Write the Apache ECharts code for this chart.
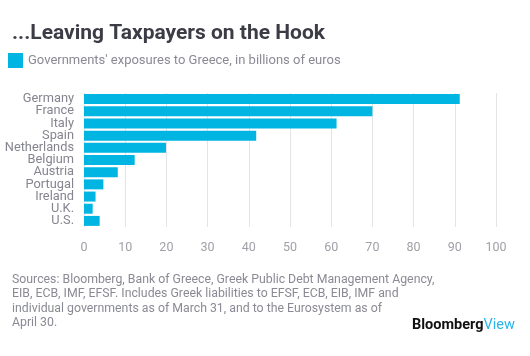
<!DOCTYPE html>
<html><head><meta charset="utf-8">
<script src="https://cdn.jsdelivr.net/npm/echarts@6/dist/echarts.min.js"></script>
<style>html,body{margin:0;padding:0;background:#fff}#c{width:530px;height:356px}</style>
</head><body><div id="c"></div>
<script>
const countries = ["Germany","France","Italy","Spain","Netherlands","Belgium","Austria","Portugal","Ireland","U.K.","U.S."];
const exposures = [91.2, 70.0, 61.3, 41.8, 19.9, 12.3, 8.2, 4.7, 2.8, 2.1, 3.8];
const xTicks = [0,10,20,30,40,50,60,70,80,90,100];
const title = "...Leaving Taxpayers on the Hook";
const legendText = "Governments' exposures to Greece, in billions of euros";
const footnote = [
 "Sources: Bloomberg, Bank of Greece, Greek Public Debt Management Agency,",
 "EIB, ECB, IMF, EFSF. Includes Greek liabilities to EFSF, ECB, EIB, IMF and",
 "individual governments as of March 31, and to the Eurosystem as of",
 "April 30."
];
const font = "Roboto, 'Noto Sans', sans-serif";
const chart = echarts.init(document.getElementById('c'), null, {renderer:'canvas'});
chart.setOption({
  animation:false,
  backgroundColor:'#fff',
  title:{text:title,left:7,top:18,textStyle:{fontFamily:font,fontSize:21,fontWeight:'bold',color:'#3c3c46'}},
  legend:{data:[legendText],left:8,top:53,padding:0,itemWidth:15,itemHeight:15,itemGap:5,icon:'rect',
    textStyle:{fontFamily:font,fontSize:13,color:'#8a8a94',padding:[0,0,0,0]}},
  grid:{left:84,right:34,top:93,height:134},
  xAxis:{type:'value',min:0,max:100,interval:10,
    axisLine:{show:false},axisTick:{show:false},
    splitLine:{show:true,lineStyle:{color:'#e4e4e8',width:1}},
    axisLabel:{fontFamily:font,fontSize:12.5,color:'#a0a0a8',margin:14,
      formatter:v=>xTicks.includes(v)?String(v):''}},
  yAxis:{type:'category',data:countries,inverse:true,
    axisLine:{show:false},axisTick:{show:false},
    axisLabel:{interval:0,fontFamily:font,fontSize:12.8,color:'#85858f',margin:10}},
  series:[{name:legendText,type:'bar',data:exposures,barCategoryGap:'18%',
    itemStyle:{color:'#00b5e2'}}],
  graphic:[
    {type:'text',left:12,top:273,style:{text:footnote.join('\n'),fontFamily:font,fontSize:12.3,lineHeight:14.2,fill:'#8a8a94'}},
    {type:'text',left:412,top:318,style:{
      text:'{a|Bloomberg}{b|View}',
      rich:{a:{fontFamily:font,fontSize:14.5,fontWeight:'bold',fill:'#111',color:'#111'},
            b:{fontFamily:font,fontSize:14.5,fontWeight:'normal',fill:'#29b6ea',color:'#29b6ea'}}}}
  ]
});
</script></body></html>
